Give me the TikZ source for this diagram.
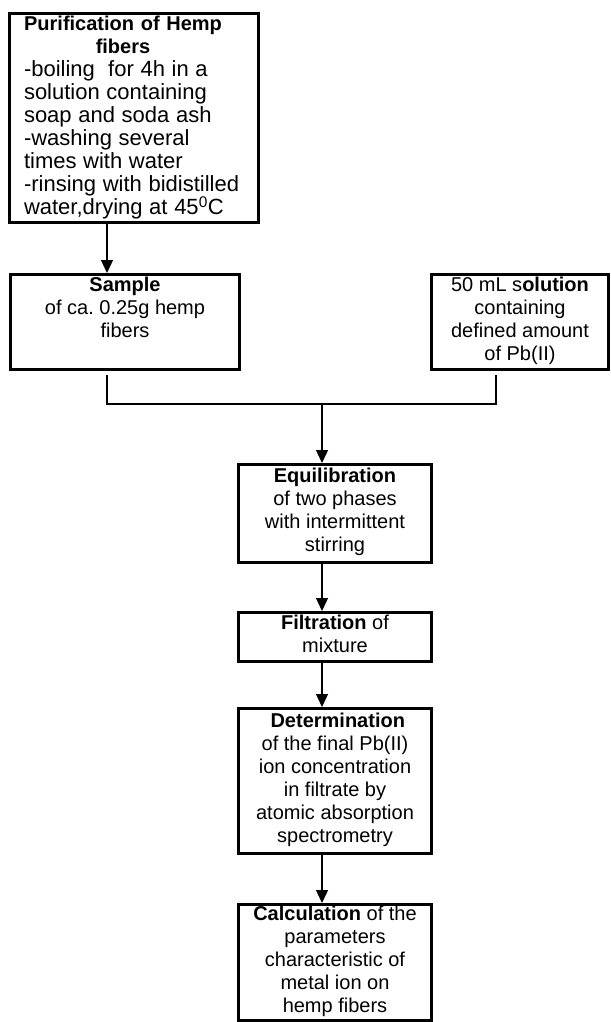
\documentclass[tikz,border=0pt]{standalone}
\usepackage{fontspec}
\setmainfont{Liberation Sans}
\usetikzlibrary{arrows.meta,calc,positioning}
\tikzstyle{stepbox} = [draw=black, line width=3.3pt, inner sep=0pt, align=center, font=\fontsize{20}{23}\selectfont, execute at begin node=\strut, execute at end node=\strut]
\tikzstyle{arrow} = [line width=1.3pt, -{Triangle[length=13pt,width=12pt]}]
\tikzstyle{joinline} = [line width=1.3pt]

\begin{document}
\begin{tikzpicture}[x=1pt,y=-1pt]
\useasboundingbox (0,0) rectangle (610,1022);
% boxes
\node (purif) at (134,118) [stepbox, align=left, text width=220pt, minimum width=248.6pt, minimum height=208.6pt]
  {\makebox[198pt]{\textbf{Purification of Hemp}}\\
   \makebox[198pt]{\textbf{fibers}}\\
   \fontsize{22}{23}\selectfont
   \mbox{-boiling\ \ for 4h in a}\\
   \mbox{solution containing}\\
   \mbox{soap and soda ash}\\
   \mbox{-washing several}\\
   \mbox{times with water}\\
   \mbox{-rinsing with bidistilled}\\
   \mbox{water,drying at 45\textsuperscript{0}C}};
\node (sample) at (125,322) [stepbox, minimum width=228.7pt, minimum height=94.7pt]
  {\textbf{Sample}\\ of ca.\ 0.25g hemp\\ fibers\\ \mbox{}};
\node (solution) at (520,322) [stepbox, minimum width=176.7pt, minimum height=94.7pt]
  {50 mL s\textbf{olution}\\ containing\\ defined amount\\ of Pb(II)};
\node (equil) at (335,513.5) [stepbox, minimum width=192.7pt, minimum height=97.7pt]
  {\textbf{Equilibration}\\ of two phases\\ with intermittent\\ stirring};
\node (filt) at (335,637) [stepbox, minimum width=192.7pt, minimum height=48.7pt]
  {\textbf{Filtration} of\\ mixture};
\node (determ) at (335,781) [stepbox, minimum width=192.7pt, minimum height=144.7pt]
  {\ \textbf{Determination}\\ of the final Pb(II)\\ ion concentration\\ in filtrate by\\ atomic absorption\\ spectrometry};
\node (calc) at (335,962.5) [stepbox, minimum width=192.7pt, minimum height=115.7pt]
  {\textbf{Calculation} of the\\ parameters\\ characteristic of\\ metal ion on\\ hemp fibers};
% connectors
\coordinate (merge) at (322,404);
\draw[arrow] ([xshift=-27pt]purif.south) -- ([xshift=-27pt]purif.south |- sample.north);
\draw[joinline] ([xshift=-18pt,yshift=-4pt]sample.south) |- (merge) -| ([xshift=-24pt,yshift=-4pt]solution.south);
\draw[arrow] (merge) -- (merge |- equil.north);
\draw[arrow] ([xshift=-13pt]equil.south) -- ([xshift=-13pt]filt.north);
\draw[arrow] ([xshift=-13pt]filt.south) -- ([xshift=-13pt]determ.north);
\draw[arrow] ([xshift=-13pt]determ.south) -- ([xshift=-13pt]calc.north);
\end{tikzpicture}
\end{document}
